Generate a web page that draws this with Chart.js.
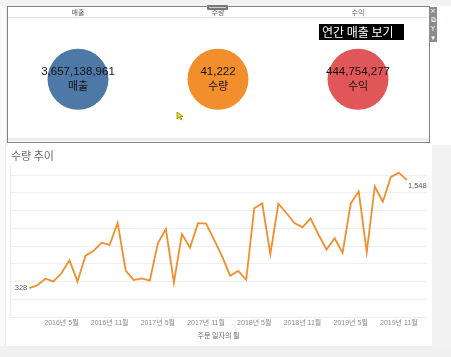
<!DOCTYPE html>
<html><head><meta charset="utf-8">
<script src="https://cdn.jsdelivr.net/npm/chart.js@4.4.1/dist/chart.umd.min.js"></script>
<style>
html,body{margin:0;padding:0}
body{width:451px;height:357px;position:relative;overflow:hidden;background:#fff;font-family:"Liberation Sans","Noto Sans CJK KR",sans-serif}
.abs{position:absolute}
</style></head>
<body>
<div class="abs" style="left:0;top:0;width:451px;height:6px;background:#f2f2f2"></div>
<div class="abs" style="left:0;top:6px;width:6px;height:140px;background:#fafafa;border-right:1px solid #ececec"></div>
<div class="abs" style="left:7px;top:6px;width:423px;height:137px;box-sizing:border-box;border:1px solid #838383;background:#fff"></div>
<div class="abs" style="left:8px;top:138px;width:421px;height:3px;background:#ececec"></div>
<div class="abs" style="left:207px;top:5px;width:21px;height:5px;background:#7a7a7a;border-radius:1px"></div>
<div class="abs" style="left:209px;top:7px;width:17px;height:1px;background:#cfcfcf"></div>
<div class="abs" style="left:429px;top:7px;width:8px;height:35px;background:#8c8c8c;color:#fff;font:7px 'DejaVu Sans';text-align:center;line-height:9px">×<br>⧉<br>Y<br>▾</div>
<div class="abs" style="left:8px;top:7px;width:420px;height:134px"><canvas id="kpi" width="420" height="134"></canvas></div>
<div class="abs" style="left:319px;top:24px;width:85px;height:16px;background:#000;color:#fff;font:12px 'Noto Sans CJK KR';line-height:16px;padding-left:3px;box-sizing:border-box;white-space:nowrap">연간 매출 보기</div>
<svg class="abs" style="left:176px;top:111px" width="9" height="10"><path d="M1 1 L1 8 L3 6 L5 9 L6 8.5 L4.5 5.5 L7 5.5 Z" fill="#e8e000" stroke="#6b6b00" stroke-width="0.6"/></svg>
<div class="abs" style="left:0;top:145px;width:5px;height:201px;background:#fafafa;border-right:1px solid #ebebeb"></div>
<div class="abs" style="left:432px;top:145px;width:19px;height:212px;background:#f2f2f2"></div>
<div class="abs" style="left:0;top:346px;width:451px;height:11px;background:#f0f0f0"></div>
<div class="abs" style="left:11px;top:147px;font:11px 'Noto Sans CJK KR';color:#6a6a6a;white-space:nowrap">수량 추이</div>
<div class="abs" style="left:5px;top:163px;width:427px;height:183px"><canvas id="line" width="427" height="183"></canvas></div>
<script>
// ---- KPI data ----
const kpiLabels = ['매출', '수량', '수익'];
const kpiValues = [3657138961, 41222, 444754277];
const kpiColors = ['#4e79a7', '#f28e2b', '#e15759'];

// ---- Monthly quantity (2016-01 .. 2019-12) ----
const months = [
 '2016-01','2016-02','2016-03','2016-04','2016-05','2016-06','2016-07','2016-08','2016-09','2016-10','2016-11','2016-12',
 '2017-01','2017-02','2017-03','2017-04','2017-05','2017-06','2017-07','2017-08','2017-09','2017-10','2017-11','2017-12',
 '2018-01','2018-02','2018-03','2018-04','2018-05','2018-06','2018-07','2018-08','2018-09','2018-10','2018-11','2018-12',
 '2019-01','2019-02','2019-03','2019-04','2019-05','2019-06','2019-07','2019-08','2019-09','2019-10','2019-11','2019-12'];
const qtyValues = [
 328,360,434,403,495,641,403,694,748,840,814,1063,
 526,418,437,411,832,993,391,936,783,1059,1055,875,
 685,468,521,422,1228,1281,710,1278,1174,1062,1013,1113,
 929,763,890,725,1281,1416,733,1473,1301,1580,1626,1548];
const tickMonths = ['2016-05','2016-11','2017-05','2017-11','2018-05','2018-11','2019-05','2019-11'];
const tickLabels = ['2016년 5월','2016년 11월','2017년 5월','2017년 11월','2018년 5월','2018년 11월','2019년 5월','2019년 11월'];
const gridValues = [0,200,400,600,800,1000,1200,1400,1600];
const xTitle = '주문 일자의 월';

const kpiText = {
  id: 'kpiText',
  afterDatasetsDraw(chart) {
    const ctx = chart.ctx;
    chart.getDatasetMeta(0).data.forEach((pt, i) => {
      ctx.save();
      ctx.fillStyle = '#111';
      ctx.textAlign = 'center';
      ctx.textBaseline = 'middle';
      ctx.font = '11.5px "Liberation Sans","Noto Sans CJK KR"';
      ctx.fillText(kpiValues[i].toLocaleString('en-US'), pt.x, pt.y - 7);
      ctx.font = '11px "Noto Sans CJK KR"';
      ctx.fillText(kpiLabels[i], pt.x, pt.y + 7);
      ctx.restore();
    });
  }
};

new Chart(document.getElementById('kpi'), {
  type: 'line',
  data: {
    labels: kpiLabels,
    datasets: [{
      data: kpiValues.map(() => 0),
      showLine: false,
      pointRadius: 30.5,
      pointHoverRadius: 30.5,
      pointBackgroundColor: kpiColors,
      pointBorderWidth: 0,
      borderWidth: 0,
      clip: false
    }]
  },
  options: {
    responsive: false, animation: false,
    layout: { padding: 0, autoPadding: false },
    plugins: { legend: { display: false }, tooltip: { enabled: false } },
    scales: {
      x: {
        type: 'category', position: 'top', offset: true,
        grid: { display: false, drawTicks: false },
        border: { display: true, color: '#e3e3e3' },
        ticks: { padding: 1, color: '#666', font: { size: 7, family: '"Noto Sans CJK KR"' } }
      },
      y: { display: false, min: -1, max: 1 }
    }
  },
  plugins: [kpiText]
});

const endLabels = {
  id: 'endLabels',
  afterDatasetsDraw(chart) {
    const ctx = chart.ctx;
    const pts = chart.getDatasetMeta(0).data;
    const first = pts[0], last = pts[pts.length - 1];
    ctx.save();
    ctx.fillStyle = '#555';
    ctx.font = '7.5px "Liberation Sans"';
    ctx.textBaseline = 'middle';
    ctx.textAlign = 'right';
    ctx.fillText(qtyValues[0].toLocaleString('en-US'), first.x - 2, first.y);
    ctx.textAlign = 'left';
    ctx.fillText(qtyValues[qtyValues.length - 1].toLocaleString('en-US'), last.x + 1, last.y + 6);
    ctx.restore();
  }
};

const tickIdx = tickMonths.map(m => months.indexOf(m));

new Chart(document.getElementById('line'), {
  type: 'line',
  data: {
    datasets: [{
      data: qtyValues.map((v, i) => ({ x: i, y: v })),
      borderColor: '#f28e2b',
      borderWidth: 1.8,
      pointRadius: 0,
      tension: 0,
      fill: false
    }]
  },
  options: {
    responsive: false, animation: false,
    layout: { padding: { left: 5, right: 5, top: 2, bottom: 6 }, autoPadding: false },
    plugins: { legend: { display: false }, tooltip: { enabled: false } },
    scales: {
      x: {
        type: 'linear', min: -2.4, max: 49.5,
        afterBuildTicks: s => { s.ticks = tickIdx.map(v => ({ value: v })); },
        grid: { display: false, drawTicks: false },
        border: { display: false },
        ticks: {
          padding: 2, color: '#8a8a8a', maxRotation: 0, autoSkip: false,
          font: { size: 7, family: '"Liberation Sans","Noto Sans CJK KR"' },
          callback: v => tickLabels[tickIdx.indexOf(v)]
        },
        title: {
          display: true, text: xTitle, color: '#666',
          padding: { top: 2, bottom: 0 },
          font: { size: 7, family: '"Noto Sans CJK KR"' }
        }
      },
      y: {
        min: 0, max: 1715,
        afterBuildTicks: s => { s.ticks = gridValues.map(v => ({ value: v })); },
        grid: { color: '#eeeeee', drawTicks: false, lineWidth: 1 },
        border: { display: true, color: '#ececec' },
        ticks: { display: false }
      }
    }
  },
  plugins: [endLabels]
});
</script>
</body></html>
